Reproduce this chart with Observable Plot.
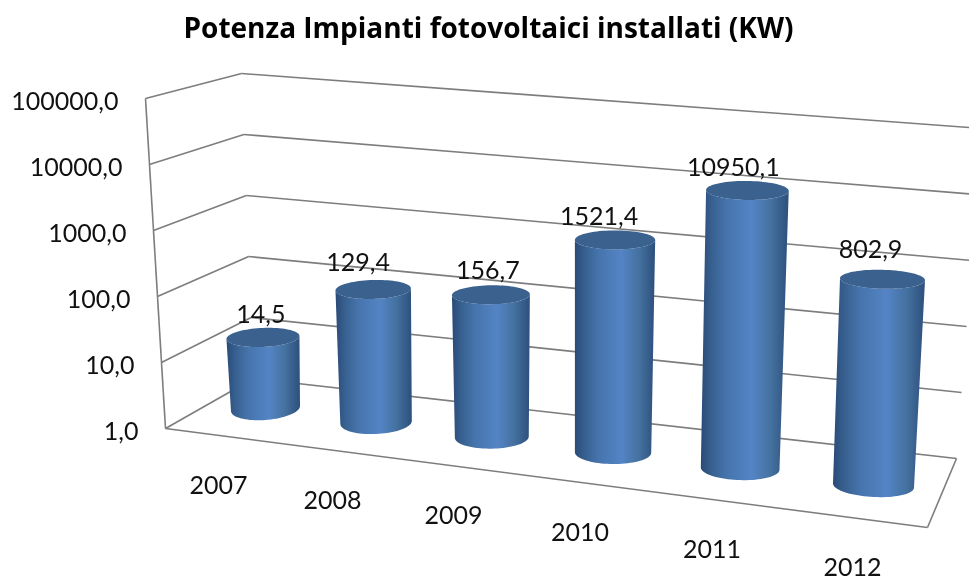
<!DOCTYPE html>
<html><head><meta charset="utf-8">
<script src="https://cdn.jsdelivr.net/npm/d3@7"></script>
<script src="https://cdn.jsdelivr.net/npm/@observablehq/plot@0.6"></script>
<style>html,body{margin:0;padding:0;background:#fff}svg{display:block;filter:blur(.45px)}</style>
</head><body><div id="chart"></div>
<script>
// DATA
const years = ["2007","2008","2009","2010","2011","2012"];
const power = [14.5,129.4,156.7,1521.4,10950.1,802.9];
const ticks = [1,10,100,1000,10000,100000];
const title = "Potenza Impianti fotovoltaici installati (KW)";

// Small hand nudges of the data labels, as placed in the original chart
const labelDx = [-2,-15,-3,-16,-14,-12];
const labelDy = [-22,-26,-24,-23,-22,-29];

// Value axis: a log scale from Plot, normalised to wall height 0..1
const h = Plot.scale({y:{type:"log",domain:[1,100000],range:[0,1]}});
const comma = v => v.toFixed(1).replace(".",",");

// Perspective: homography of the unit square on a quadrilateral
function quad(p00,p10,p01,p11){
  const dx1=p10[0]-p11[0],dx2=p01[0]-p11[0],sx=p00[0]-p10[0]+p11[0]-p01[0];
  const dy1=p10[1]-p11[1],dy2=p01[1]-p11[1],sy=p00[1]-p10[1]+p11[1]-p01[1];
  const den=dx1*dy2-dx2*dy1, g=(sx*dy2-dx2*sy)/den, k=(dx1*sy-sx*dy1)/den;
  const a=p10[0]-p00[0]+g*p10[0], b=p01[0]-p00[0]+k*p01[0], c=p00[0];
  const d=p10[1]-p00[1]+g*p10[1], e=p01[1]-p00[1]+k*p01[1], f=p00[1];
  return (u,v)=>{const w=g*u+k*v+1;return [(a*u+b*v+c)/w,(d*u+e*v+f)/w];};
}
const lerp=(a,b,t)=>a+(b-a)*t;
// chart box: floor and ceiling (u along categories, d from back 0 to front 1)
const floor = quad([253,378],[956,458],[165,428],[927,527]);
const ceil  = quad([241,73],[981,128],[145,98],[955,170]);
const box = (u,d,t)=>{const A=floor(u,d),B=ceil(u,d);return [lerp(A[0],B[0],t),lerp(A[1],B[1],t)];};
// plane through the cylinder axes (u = 0 first category, 1 last; v = height, linear)
const axesQuad = quad([265,408],[873,485],[254,102],[888.5,130]);
const axes = (u,v)=>{const A=axesQuad(u,0),B=axesQuad(u,1);return [lerp(A[0],B[0],v),lerp(A[1],B[1],v)];};
const uOf = i => {const s=i/(years.length-1);return s+0.035*s*(1-s);};

// Frame lines
const seg=(p,q)=>({x1:p[0],y1:p[1],x2:q[0],y2:q[1]});
const frame=[];
for(const t of ticks){const v=h.apply(t);
  frame.push(seg(box(0,1,v),box(0,0,v)));
  frame.push(seg(box(0,0,v),box(1,0,v)));
}
frame.push(seg(box(0,1,0),box(0,1,1)));
frame.push(seg(box(0,1,0),box(1,1,0)));
frame.push(seg(box(1,1,0),box(1,0,0)));

// Cylinders
function ellipsePoint(c,ax,ay,ry,th){return [c[0]+ax*Math.cos(th),c[1]+ay*Math.cos(th)+ry*Math.sin(th)];}
const bodies=[],caps=[],valueLabels=[],yearLabels=[];
years.forEach((year,i)=>{
  const u=uOf(i),t=h.apply(power[i]);
  const B=axes(u,0),T=axes(u,t);
  const hwB=34.5+6*u,hwT=hwB+2;
  const tiltB=lerp(-5,4,u)/2,tiltT=lerp(-3,2,u)/2;
  const N=40;
  // body outline: down the left side, round the base, up the right, back across the top
  for(let k=0;k<=N;k++){const p=ellipsePoint(B,hwB,tiltB,11.5,Math.PI-k/N*Math.PI);bodies.push({year,x:p[0],y:p[1]});}
  for(let k=0;k<=N;k++){const p=ellipsePoint(T,hwT,tiltT,9.5,k/N*Math.PI*2);bodies.push({year,x:p[0],y:p[1]});if(k===N/2)break;}
  for(let k=0;k<=2*N;k++){const p=ellipsePoint(T,hwT,tiltT,9.5,k/N*Math.PI);caps.push({year,x:p[0],y:p[1]});}
  valueLabels.push({x:T[0]+labelDx[i],y:T[1]+labelDy[i],text:comma(power[i])});
  yearLabels.push({x:B[0]+lerp(-47,-21,u)-(i>0&&i<5?2:0),y:B[1]+lerp(77,82,u),text:year});
});
const tickLabels=ticks.map(t=>{const p=box(0,1,h.apply(t));return {x:p[0],y:p[1],text:comma(t)};});

const defs=()=>{
  const s=d3.create("svg:defs");
  const g=s.append("linearGradient").attr("id","cyl").attr("x1",0).attr("x2",1).attr("y1",0).attr("y2",0);
  [[0,"#2a4a78"],[.12,"#37608f"],[.3,"#4674ad"],[.58,"#5484c5"],[.8,"#44719f"],[1,"#2d4f7c"]]
    .forEach(([o,c])=>g.append("stop").attr("offset",o).attr("stop-color",c));
  return s.node();
};

const chart=Plot.plot({
  width:969,height:581,margin:0,
  x:{type:"identity",axis:null},y:{type:"identity",axis:null},
  style:{background:"#fff",fontFamily:"Lato"},
  marks:[
    defs,
    Plot.link(frame,{x1:"x1",y1:"y1",x2:"x2",y2:"y2",stroke:"#7d7d7d",strokeWidth:1.6}),
    Plot.line(bodies,{x:"x",y:"y",z:"year",fill:"url(#cyl)",stroke:"none"}),
    Plot.line(caps,{x:"x",y:"y",z:"year",fill:"#3b618f",stroke:"none"}),
    Plot.text(tickLabels,{x:"x",y:"y",text:"text",textAnchor:"end",dx:-27,dy:3.5,fontSize:25,fill:"#111"}),
    Plot.text(valueLabels,{x:"x",y:"y",text:"text",fontSize:25,fill:"#111"}),
    Plot.text(yearLabels,{x:"x",y:"y",text:"text",fontSize:25,fill:"#111"}),
    Plot.text([title],{x:()=>488,y:()=>29,text:d=>d,fontSize:28,fontWeight:"bold",fontFamily:"Open Sans",fill:"#000"})
  ]
});
document.getElementById("chart").append(chart);
</script></body></html>
